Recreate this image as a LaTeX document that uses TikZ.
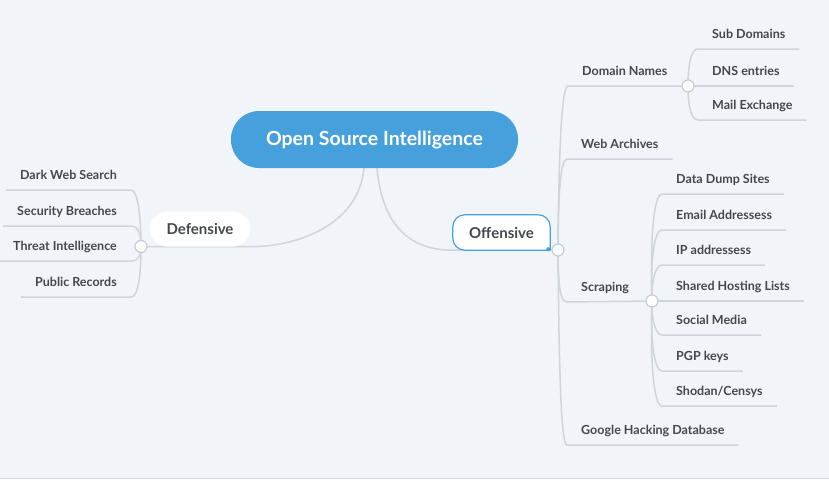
\documentclass[tikz,border=0pt]{standalone}
\usepackage{fontspec}
\setmainfont{Lato}
\usetikzlibrary{calc}
\definecolor{bgc}{HTML}{F1F4F8}
\definecolor{lnc}{HTML}{CDD5DD}
\definecolor{jnc}{HTML}{C3CDD6}
\definecolor{txc}{HTML}{45474F}
\definecolor{blu}{HTML}{45A0DB}
\pgfdeclarelayer{bg}
\pgfdeclarelayer{lines}
\pgfdeclarelayer{boxes}
\pgfsetlayers{bg,lines,boxes,main}
\tikzset{
  leaf/.style={font=\bfseries\fontsize{12.5}{14}\selectfont, text=txc, inner xsep=14pt, inner ysep=0pt, text height=9.5pt, text depth=10.5pt},
  leafl/.style={leaf, anchor=south east},
  leafr/.style={leaf, anchor=south west},
  root/.style={fill=blu, text=white, font=\bfseries\fontsize{19.5}{22}\selectfont, minimum width=287pt, minimum height=57pt, rounded corners=28pt, inner sep=0pt, text height=12pt, text depth=0pt},
  midnode/.style={font=\bfseries\fontsize{15}{17}\selectfont, text=txc, minimum height=35pt, inner sep=0pt},
  jn/.style={circle, draw=jnc, fill=white, line width=1.2pt, minimum size=12pt, inner sep=0pt},
  br/.style={draw=lnc, line width=1.5pt}
}
\begin{document}
\begin{tikzpicture}[x=1pt,y=-1pt]
\useasboundingbox (0,0) rectangle (829,479);
\begin{pgfonlayer}{bg}
  \fill[bgc] (0,0) rectangle (829,479);
  \draw[jnc!70!bgc, line width=0.8pt] (0,478) -- (829,478);
\end{pgfonlayer}

% main nodes
\node[root] (osi) at (374.5,139.5) {Open Source Intelligence};
\node[midnode, fill=white, rounded corners=17pt, minimum width=100pt] (def) at (200,229) {Defensive};
\node[midnode, minimum width=97pt] (off) at (501.5,232.5) {Offensive};
\begin{pgfonlayer}{boxes}
  \filldraw[fill=white, draw=blu, line width=1.2pt] (off.south east) [rounded corners=12pt] -- (off.north east) -- (off.north west) -- (off.south west) -- (off.south east);
  \fill[blu] ([shift={(-2,-1)}]off.south east) circle (2pt);
\end{pgfonlayer}

% junctions
\node[jn] (jd) at (141,246.5) {};
\node[jn] (jo) at (558,250) {};
\node[jn] (jdn) at (688,86) {};
\node[jn] (jsc) at (652,301) {};

% defensive leaves
\node[leafl] (dws) at (131,190) {Dark Web Search};
\node[leafl] (sb) at (131,226) {Security Breaches};
\node[leafl] (ti) at (131,261) {Threat Intelligence};
\node[leafl] (pr) at (131,297) {Public Records};

% offensive children
\node[leafr] (dn) at (568,86) {Domain Names};
\node[leafr] (wa) at (567,159) {Web Archives};
\node[leafr] (scr) at (567,302) {Scraping};
\node[leafr] (ghd) at (567,445) {Google Hacking Database};

% domain children
\node[leafr] (sd) at (698,49) {Sub Domains};
\node[leafr] (dnse) at (698,86) {DNS entries};
\node[leafr] (mx) at (698,120) {Mail Exchange};

% scraping children
\node[leafr] (dds) at (662,194) {Data Dump Sites};
\node[leafr] (ea) at (662,230) {Email Addressess};
\node[leafr] (ip) at (662,265) {IP addressess};
\node[leafr] (shl) at (662,301) {Shared Hosting Lists};
\node[leafr] (sm) at (662,335) {Social Media};
\node[leafr] (pgp) at (662,371) {PGP keys};
\node[leafr] (sc) at (662,406) {Shodan/Censys};

\begin{pgfonlayer}{lines}
  % root to main branches
  \draw[br] ([xshift=-10.5pt]osi.south) .. controls +(-5,55) and +(50,0) .. (def.south east) -- (jd.center);
  \draw[br] ([xshift=2.5pt]osi.south) .. controls +(5,55) and +(-45,0) .. (off.south west) -- (jo.center);
  % defensive
  \draw[br] (jd.center) .. controls (141,218) and (138,190) .. (dws.south east) -- (dws.south west);
  \draw[br] (jd.center) .. controls (141,236) and (139,226) .. (sb.south east) -- (sb.south west);
  \draw[br] (jd.center) .. controls (141,255) and (139,261) .. (ti.south east) -- (ti.south west);
  \draw[br] (jd.center) .. controls (141,276) and (138,297) .. (pr.south east) -- (pr.south west);
  % offensive
  \draw[br] (jo.center) .. controls (559,140) and (562,86) .. (dn.south west) -- (jdn.center);
  \draw[br] (jo.center) .. controls (558,190) and (561,159) .. (wa.south west) -- (wa.south east);
  \draw[br] (jo.center) .. controls (558,285) and (560,302) .. (scr.south west) -- (jsc.center);
  \draw[br] (jo.center) .. controls (559,370) and (561,445) .. (ghd.south west) -- (ghd.south east);
  % domain names
  \draw[br] (jdn.center) .. controls (688,64) and (691,49) .. (sd.south west) -- (sd.south east);
  \draw[br] (jdn.center) -- (dnse.south west) -- (dnse.south east);
  \draw[br] (jdn.center) .. controls (688,106) and (691,120) .. (mx.south west) -- (mx.south east);
  % scraping
  \draw[br] (jsc.center) .. controls (650,235) and (654,194) .. (dds.south west) -- (dds.south east);
  \draw[br] (jsc.center) .. controls (650,255) and (655,230) .. (ea.south west) -- (ea.south east);
  \draw[br] (jsc.center) .. controls (651,280) and (656,265) .. (ip.south west) -- (ip.south east);
  \draw[br] (jsc.center) -- (shl.south west) -- (shl.south east);
  \draw[br] (jsc.center) .. controls (651,320) and (656,335) .. (sm.south west) -- (sm.south east);
  \draw[br] (jsc.center) .. controls (650,345) and (655,371) .. (pgp.south west) -- (pgp.south east);
  \draw[br] (jsc.center) .. controls (650,365) and (654,406) .. (sc.south west) -- (sc.south east);
\end{pgfonlayer}
\end{tikzpicture}
\end{document}
